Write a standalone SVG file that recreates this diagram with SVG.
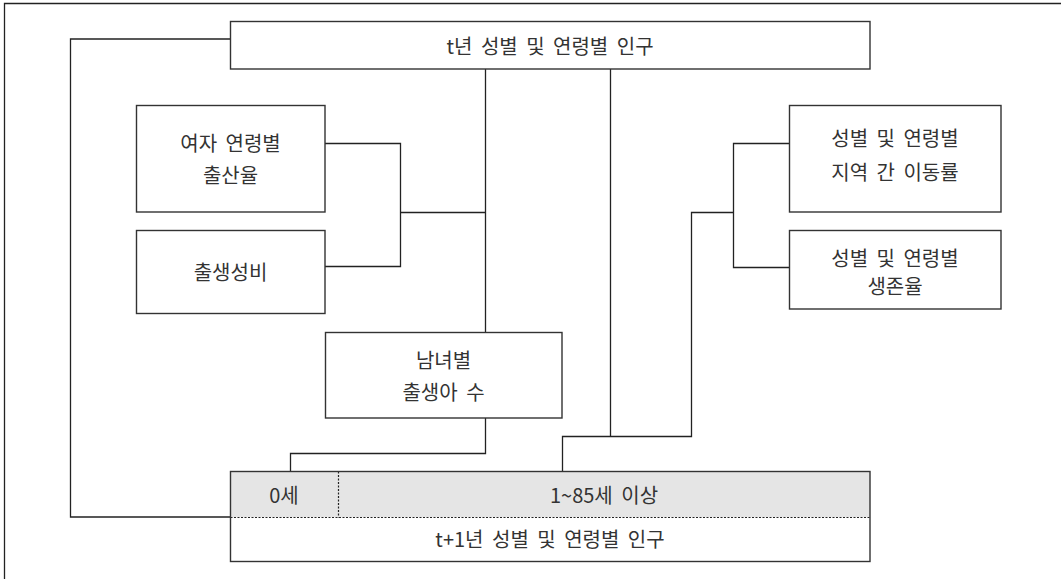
<svg xmlns="http://www.w3.org/2000/svg" width="1061" height="579" viewBox="0 0 1061 579">
<style>
.box{fill:#fff;stroke:#333;stroke-width:1.4}
.ln{fill:none;stroke:#222;stroke-width:1.3}
.dot{fill:none;stroke:#222;stroke-width:1.2;stroke-dasharray:2 1.5}
text{font-family:"Noto Sans CJK KR","Noto Sans",sans-serif;font-size:20px;fill:#333;text-anchor:middle;word-spacing:4px}
</style>
<rect width="1061" height="579" fill="#fff"/>
<g id="frame"><path class="ln" d="M4.5,579 V3.5 H1061" stroke-width="2"/></g>
<g id="connectors">
<path class="ln" d="M230,39 H70.5 V517 H230"/>
<path class="ln" d="M485.5,69 V332"/>
<path class="ln" d="M325,143.5 H400.5 V266.5 H325"/>
<path class="ln" d="M400.5,212.5 H485.5"/>
<path class="ln" d="M485.5,418 V453.5 H290.5 V471"/>
<path class="ln" d="M610.5,69 V436.5"/>
<path class="ln" d="M562.5,471 V436.5 H691.5 V212.5 H733.5"/>
<path class="ln" d="M789,143.5 H733.5 V267.5 H789"/>
</g>
<g id="n-top"><rect class="box" x="230.5" y="21.5" width="639.5" height="47.5"/><text x="550" y="54">t년 성별 및 연령별 인구</text></g>
<g id="n-fert"><rect class="box" x="136.5" y="105.5" width="188.5" height="106.5"/><text x="230.5" y="151">여자 연령별</text><text x="230.5" y="183">출산율</text></g>
<g id="n-ratio"><rect class="box" x="136.5" y="230.5" width="188.5" height="83"/><text x="230.5" y="280">출생성비</text></g>
<g id="n-births"><rect class="box" x="325.5" y="332.5" width="236.5" height="85.5"/><text x="443.5" y="368">남녀별</text><text x="443.5" y="400">출생아 수</text></g>
<g id="n-migr"><rect class="box" x="789.5" y="105.5" width="211.5" height="106.5"/><text x="895" y="146">성별 및 연령별</text><text x="895" y="180">지역 간 이동률</text></g>
<g id="n-surv"><rect class="box" x="789.5" y="230.5" width="211.5" height="78.5"/><text x="895" y="266">성별 및 연령별</text><text x="895" y="294">생존율</text></g>
<g id="n-bottom">
<rect x="230.5" y="471.5" width="639.5" height="46" fill="#e5e5e5"/>
<rect x="230.5" y="517.5" width="639.5" height="44" fill="#fff"/>
<path class="dot" d="M230.5,517.5 H870"/>
<path class="dot" d="M338.5,471.5 V517.5"/>
<rect x="230.5" y="471.5" width="639.5" height="90" fill="none" stroke="#333" stroke-width="1.4"/>
<text x="284" y="503">0세</text>
<text x="604" y="503">1~85세 이상</text>
<text x="550" y="547">t+1년 성별 및 연령별 인구</text>
</g>
</svg>
